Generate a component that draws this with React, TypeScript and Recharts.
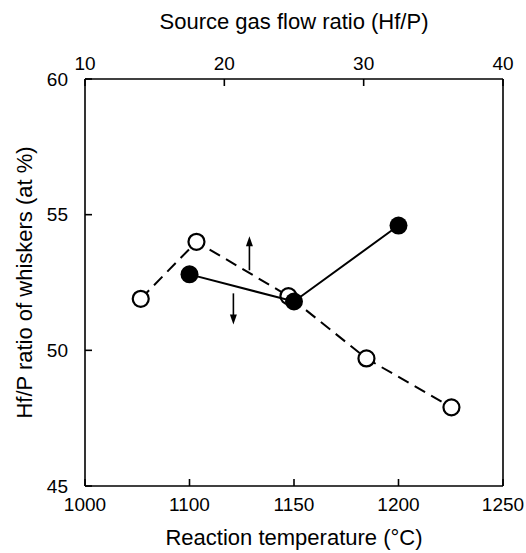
import { ReferenceLine, Scatter, ScatterChart, XAxis, YAxis } from 'recharts'

// open circles, dashed line: read against the top axis (gas flow ratio)
const flowRatio = [14, 18, 24.6, 30.2, 36.3]
const ratioVsFlow = [51.9, 54.0, 52.0, 49.7, 47.9]

// filled circles, solid line: read against the bottom axis (temperature)
const temperature = [1100, 1150, 1200]
const ratioVsTemp = [52.8, 51.8, 54.6]

const topTicks = [10, 20, 30, 40]
const bottomTicks = [1050, 1100, 1150, 1200, 1250]
const bottomTickLabels = ['1000', '1100', '1150', '1200', '1250']
const yTicks = [45, 50, 55, 60]

// arrows telling which axis each curve belongs to
const upArrow = [{ x: 21.8, y: 52.95 }, { x: 21.8, y: 54.2 }]
const downArrow = [{ x: 1121, y: 52.1 }, { x: 1121, y: 50.95 }]

const flowData = flowRatio.map((x, i) => ({ x, y: ratioVsFlow[i] }))
const tempData = temperature.map((x, i) => ({ x, y: ratioVsTemp[i] }))

const font = '"Liberation Sans", Arial, sans-serif'
const axisStyle = { stroke: '#000', strokeWidth: 1.6 }
const tickText = { fill: '#000', fontSize: 19, fontFamily: font }

const OpenDot = (props: any) => (
  <circle cx={props.cx} cy={props.cy} r={8} fill="#fff" stroke="#000" strokeWidth={2.2} />
)
const FilledDot = (props: any) => <circle cx={props.cx} cy={props.cy} r={9} fill="#000" />

const Arrow = (props: any) => {
  const { x1, y1, x2, y2 } = props
  const dir = y2 < y1 ? 1 : -1
  return (
    <g>
      <line x1={x1} y1={y1} x2={x2} y2={y2 + dir * 8} stroke="#000" strokeWidth={1.6} />
      <polygon points={`${x2},${y2} ${x2 - 3.5},${y2 + dir * 10} ${x2 + 3.5},${y2 + dir * 10}`} fill="#000" />
    </g>
  )
}

export default function App() {
  return (
    <div style={{ position: 'absolute', left: 0, top: 0 }}>
      <ScatterChart width={526} height={553} margin={{ top: 0, right: 0, bottom: 0, left: 0 }}>
        <XAxis
          xAxisId="top"
          orientation="top"
          type="number"
          dataKey="x"
          domain={[10, 40]}
          ticks={topTicks}
          interval={0}
          height={79}
          tickSize={-7}
          tickMargin={16}
          axisLine={axisStyle}
          tickLine={axisStyle}
          tick={tickText}
          label={{ value: 'Source gas flow ratio (Hf/P)', position: 'insideTop', offset: 13, fill: '#000', fontSize: 22, fontFamily: font }}
        />
        <XAxis
          xAxisId="bottom"
          orientation="bottom"
          type="number"
          dataKey="x"
          domain={[1050, 1250]}
          ticks={bottomTicks}
          interval={0}
          height={67}
          tickSize={-7}
          tickMargin={19}
          axisLine={axisStyle}
          tickLine={axisStyle}
          tick={tickText}
          tickFormatter={(v: number) => bottomTickLabels[bottomTicks.indexOf(v)] ?? String(v)}
          label={{ value: 'Reaction temperature (°C)', position: 'insideBottom', offset: 8, fill: '#000', fontSize: 22, fontFamily: font }}
        />
        <YAxis
          yAxisId="left"
          type="number"
          dataKey="y"
          domain={[45, 60]}
          ticks={yTicks}
          interval={0}
          width={85}
          tickSize={-7}
          tickMargin={24}
          axisLine={axisStyle}
          tickLine={axisStyle}
          tick={tickText}
          label={{
            value: 'Hf/P ratio of whiskers (at %)',
            angle: -90,
            position: 'insideLeft',
            offset: 24,
            fill: '#000',
            fontSize: 22,
            fontFamily: font,
            style: { textAnchor: 'middle' },
          }}
        />
        <YAxis
          yAxisId="right"
          orientation="right"
          type="number"
          dataKey="y"
          domain={[45, 60]}
          ticks={yTicks}
          interval={0}
          width={23}
          tickSize={-7}
          axisLine={axisStyle}
          tickLine={axisStyle}
          tickFormatter={() => ''}
        />
        <ReferenceLine xAxisId="top" yAxisId="left" segment={upArrow} shape={Arrow} />
        <ReferenceLine xAxisId="bottom" yAxisId="left" segment={downArrow} shape={Arrow} />
        <Scatter
          data={flowData}
          xAxisId="top"
          yAxisId="left"
          line={{ stroke: '#000', strokeWidth: 2, strokeDasharray: '12 7' }}
          shape={OpenDot}
          isAnimationActive={false}
        />
        <Scatter
          data={tempData}
          xAxisId="bottom"
          yAxisId="left"
          line={{ stroke: '#000', strokeWidth: 2 }}
          shape={FilledDot}
          isAnimationActive={false}
        />
      </ScatterChart>
    </div>
  )
}
